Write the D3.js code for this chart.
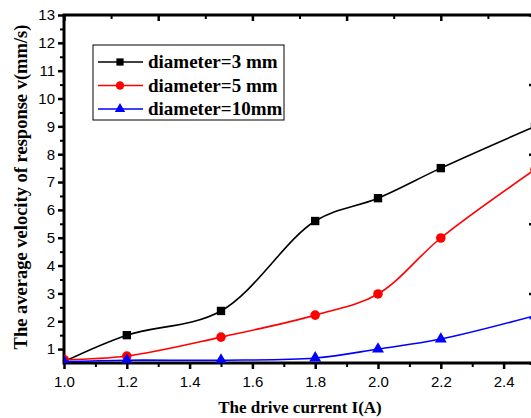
<!DOCTYPE html>
<html>
<head>
<meta charset="utf-8">
<script src="https://cdn.jsdelivr.net/npm/d3@7"></script>
<style>
  body { margin: 0; background: #fff; }
  svg { display: block; }
  .tick text { font-family: "Liberation Sans", Arial, sans-serif; font-size: 15px; fill: #000; }
  .lbl { font-family: "Liberation Serif", "Times New Roman", serif; font-weight: bold; fill: #000; }
</style>
</head>
<body>
<div id="chart"></div>
<script>
// drive current (A)
const currents = [1.0, 1.2, 1.5, 1.8, 2.0, 2.2, 2.5];
// average velocity of response (mm/s)
const v3mm  = [0.55, 1.5, 2.37, 5.6, 6.42, 7.5, 9.0];
const v5mm  = [0.62, 0.75, 1.43, 2.22, 2.98, 4.99, 7.45];
const v10mm = [0.55, 0.6, 0.6, 0.68, 1.0, 1.36, 2.2];

const seriesNames = ["diameter=3 mm", "diameter=5 mm", "diameter=10mm"];
const xTicks = [1.0, 1.2, 1.4, 1.6, 1.8, 2.0, 2.2, 2.4];
const yTicks = [1, 2, 3, 4, 5, 6, 7, 8, 9, 10, 11, 12, 13];

function drawChart() {
    const width = 531, height = 418;
    const left = 64, right = 535, top = 15, bottom = 363;

    const x = d3.scaleLinear().domain([1.0, 2.5]).range([left, right]);
    const y = d3.scaleLinear().domain([0.5, 13]).range([bottom, top]);

    const svg = d3.select("#chart").append("svg")
        .attr("width", width)
        .attr("height", height);

    svg.append("defs").append("clipPath").attr("id", "plot")
        .append("rect")
        .attr("x", left).attr("y", top)
        .attr("width", right - left).attr("height", bottom - top);

    // bottom axis: minor ticks then major ticks with labels
    svg.append("g")
        .attr("transform", `translate(0,${bottom})`)
        .call(d3.axisBottom(x).tickValues(d3.range(1.1, 2.5, 0.2)).tickSize(4).tickFormat(""))
        .call(g => g.select(".domain").remove())
        .call(g => g.selectAll("line").attr("stroke-width", 2));
    svg.append("g")
        .attr("transform", `translate(0,${bottom})`)
        .call(d3.axisBottom(x).tickValues(xTicks).tickSize(6).tickPadding(7).tickFormat(d3.format(".1f")))
        .call(g => g.select(".domain").remove())
        .call(g => g.selectAll("line").attr("stroke-width", 2.5));

    // left axis
    svg.append("g")
        .attr("transform", `translate(${left},0)`)
        .call(d3.axisLeft(y).tickValues(d3.range(1.5, 13, 1)).tickSize(4).tickFormat(""))
        .call(g => g.select(".domain").remove())
        .call(g => g.selectAll("line").attr("stroke-width", 2));
    svg.append("g")
        .attr("transform", `translate(${left},0)`)
        .call(d3.axisLeft(y).tickValues(yTicks).tickSize(6).tickPadding(3).tickFormat(d3.format("d")))
        .call(g => g.select(".domain").remove())
        .call(g => g.selectAll("line").attr("stroke-width", 2.5));

    // top axis (inward ticks)
    const topTicks = d3.range(0, 11).map(i => 1.0 + 0.15 * i);
    svg.append("g")
        .attr("transform", `translate(0,${top})`)
        .call(d3.axisTop(x).tickValues(topTicks.filter((d, i) => i % 2 === 1)).tickSize(-4).tickFormat(""))
        .call(g => g.select(".domain").remove())
        .call(g => g.selectAll("line").attr("stroke-width", 2));
    svg.append("g")
        .attr("transform", `translate(0,${top})`)
        .call(d3.axisTop(x).tickValues(topTicks.filter((d, i) => i % 2 === 0)).tickSize(-6).tickFormat(""))
        .call(g => g.select(".domain").remove())
        .call(g => g.selectAll("line").attr("stroke-width", 2.5));

    // right axis (inward ticks)
    svg.append("g")
        .attr("transform", `translate(${right},0)`)
        .call(d3.axisRight(y).tickValues(d3.range(0, 6).map(i => 0.5 + 2.5 * i)).tickSize(-6).tickFormat(""))
        .call(g => g.select(".domain").remove())
        .call(g => g.selectAll("line").attr("stroke-width", 2.5));

    // frame
    svg.append("path")
        .attr("d", `M${left},${bottom}V${top}H${right}V${bottom}Z`)
        .attr("fill", "none")
        .attr("stroke", "#000")
        .attr("stroke-width", 3);

    // series
    const series = [
        { name: seriesNames[0], values: v3mm,  color: "#000000", shape: d3.symbolSquare,   size: 70 },
        { name: seriesNames[1], values: v5mm,  color: "#ff0000", shape: d3.symbolCircle,   size: 72 },
        { name: seriesNames[2], values: v10mm, color: "#0000ff", shape: d3.symbolTriangle, size: 62 }
    ];

    const line = d3.line()
        .x(d => x(d[0]))
        .y(d => y(d[1]))
        .curve(d3.curveCatmullRom.alpha(0.5));

    const plot = svg.append("g").attr("clip-path", "url(#plot)");

    series.forEach(s => {
        const pts = currents.map((c, i) => [c, s.values[i]]);
        plot.append("path")
            .datum(pts)
            .attr("fill", "none")
            .attr("stroke", s.color)
            .attr("stroke-width", 1.6)
            .attr("d", line);
        plot.append("g")
            .selectAll("path")
            .data(pts)
            .join("path")
            .attr("transform", d => `translate(${x(d[0])},${y(d[1])})`)
            .attr("d", d3.symbol(s.shape, s.size))
            .attr("fill", s.color);
    });

    // legend
    const legend = svg.append("g").attr("transform", "translate(93,45)");
    legend.append("rect")
        .attr("width", 191).attr("height", 75)
        .attr("fill", "#fff")
        .attr("stroke", "#000")
        .attr("stroke-width", 1);
    series.forEach((s, i) => {
        const ly = 17 + i * 23.5;
        legend.append("line")
            .attr("x1", 5).attr("x2", 50)
            .attr("y1", ly).attr("y2", ly)
            .attr("stroke", s.color).attr("stroke-width", 1.6);
        legend.append("path")
            .attr("transform", `translate(27,${ly})`)
            .attr("d", d3.symbol(s.shape, s.size * 0.75))
            .attr("fill", s.color);
        legend.append("text")
            .attr("class", "lbl")
            .attr("x", 55).attr("y", ly + 6)
            .attr("font-size", 19)
            .text(s.name);
    });

    // axis titles
    svg.append("text")
        .attr("class", "lbl")
        .attr("x", (left + 535) / 2 - 0)
        .attr("x", 300)
        .attr("y", 413)
        .attr("text-anchor", "middle")
        .attr("font-size", 17)
        .text("The drive current I(A)");

    svg.append("text")
        .attr("class", "lbl")
        .attr("transform", "translate(27,187) rotate(-90)")
        .attr("text-anchor", "middle")
        .attr("font-size", 18.5)
        .text("The average velocity of response v(mm/s)");
}

document.addEventListener('DOMContentLoaded', () => {
    drawChart();
});
</script>
</body>
</html>
